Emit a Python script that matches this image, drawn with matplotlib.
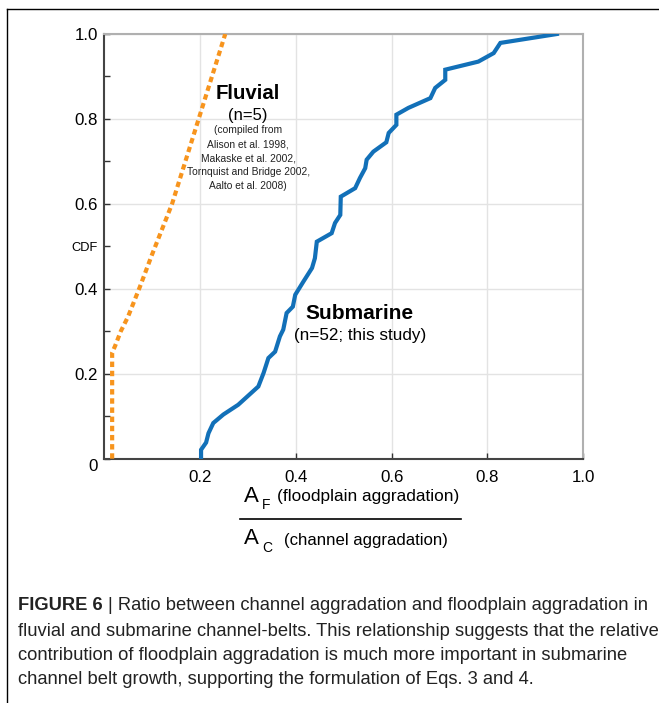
import matplotlib.pyplot as plt
from matplotlib.lines import Line2D
from matplotlib.ticker import FixedLocator, FixedFormatter

plt.rcParams['font.family'] = ['Liberation Sans', 'DejaVu Sans']

# submarine channel-belts, A_F / A_C vs cumulative fraction
sub_ratio = [0.2025, 0.2025, 0.213, 0.218, 0.228, 0.249, 0.280, 0.322, 0.333, 0.343,
             0.357, 0.367, 0.374, 0.381, 0.394, 0.399, 0.416, 0.434, 0.440, 0.444,
             0.475, 0.482, 0.493, 0.494, 0.524, 0.534, 0.545, 0.548, 0.562, 0.589,
             0.594, 0.610, 0.610, 0.635, 0.681, 0.691, 0.712, 0.712, 0.781, 0.813,
             0.827, 0.945]
sub_cdf = [0.0, 0.021, 0.038, 0.060, 0.084, 0.104, 0.127, 0.170, 0.202, 0.237,
           0.252, 0.288, 0.304, 0.343, 0.358, 0.386, 0.417, 0.449, 0.472, 0.511,
           0.531, 0.555, 0.574, 0.617, 0.637, 0.661, 0.684, 0.704, 0.723, 0.745,
           0.767, 0.786, 0.810, 0.826, 0.849, 0.873, 0.892, 0.916, 0.935, 0.955,
           0.979, 1.0]

# fluvial compilation
fluv_ratio = [0.017, 0.017, 0.023, 0.035, 0.050, 0.075, 0.100, 0.142, 0.253]
fluv_cdf = [0.0, 0.25, 0.265, 0.300, 0.334, 0.405, 0.480, 0.600, 1.0]

x_ticks = [0.2, 0.4, 0.6, 0.8, 1.0]
x_labels = ['0.2', '0.4', '0.6', '0.8', '1.0']
y_ticks = [0.0, 0.2, 0.4, 0.6, 0.8, 1.0]
y_labels = ['0', '0.2', '0.4', '0.6', '0.8', '1.0']
y_minor = [0.1, 0.3, 0.5, 0.7, 0.9]
y_minor_labels = ['', '', 'CDF', '', '']

refs = ['(compiled from', 'Alison et al. 1998,', 'Makaske et al. 2002,',
        'Tornquist and Bridge 2002,', 'Aalto et al. 2008)']

W, H = 659, 703
fig = plt.figure(figsize=(W / 100, H / 100), dpi=100)
ax = fig.add_axes([104 / W, 1 - 458.7 / H, 479.3 / W, 424.7 / H])

ax.plot(fluv_ratio, fluv_cdf, color='#F7941D', lw=3.0,
        linestyle=(0, (1.3, 0.9)), solid_capstyle='butt', zorder=3)
ax.plot(sub_ratio, sub_cdf, color='#1270B8', lw=3.0, zorder=3,
        solid_joinstyle='miter')

ax.set_xlim(0, 1)
ax.set_ylim(0, 1)
ax.xaxis.set_major_locator(FixedLocator(x_ticks))
ax.xaxis.set_major_formatter(FixedFormatter(x_labels))
ax.yaxis.set_major_locator(FixedLocator(y_ticks))
ax.yaxis.set_major_formatter(FixedFormatter(y_labels))
ax.yaxis.set_minor_locator(FixedLocator(y_minor))
ax.yaxis.set_minor_formatter(FixedFormatter(y_minor_labels))

ax.grid(True, which='major', color='#e3e3e3', lw=1.0, zorder=0)
ax.set_axisbelow(True)
ax.tick_params(which='both', direction='in', length=4, width=1, color='#333333',
               labelsize=12.2)
ax.tick_params(axis='x', pad=8)
ax.tick_params(axis='y', pad=4.5)
ax.tick_params(axis='y', which='minor', labelsize=9.3, pad=4.5)
ax.get_yticklabels()[0].set_va('top')

for side in ['left', 'bottom']:
    ax.spines[side].set_color('#444444')
    ax.spines[side].set_linewidth(1.5)
for side in ['top', 'right']:
    ax.spines[side].set_color('#b0b0b0')
    ax.spines[side].set_linewidth(1.5)

# annotations
ax.text(0.3006, 0.859, 'Fluvial', fontsize=14.7, fontweight='bold',
        ha='center', va='center')
ax.text(0.3006, 0.807, '(n=5)', fontsize=12, ha='center', va='center')
for yy, line in zip([0.774, 0.740, 0.707, 0.675, 0.642], refs):
    ax.text(0.3006, yy, line, fontsize=7.4, ha='center', va='center',
            color='#222222')
ax.text(0.534, 0.341, 'Submarine', fontsize=15, fontweight='bold',
        ha='center', va='center')
ax.text(0.534, 0.289, '(n=52; this study)', fontsize=12.3, ha='center', va='center')


def fx(px):
    return px / W


def fy(py):
    return 1 - py / H


# x-axis label drawn as a fraction
fig.text(fx(244), fy(497), 'A', fontsize=16, va='center', ha='left')
fig.text(fx(262), fy(505), 'F', fontsize=10, va='center', ha='left')
fig.text(fx(277), fy(497), '(floodplain aggradation)', fontsize=12.4,
         va='center', ha='left')
fig.add_artist(Line2D([fx(240), fx(461)], [fy(519), fy(519)], color='black', lw=1.2))
fig.text(fx(244), fy(539), 'A', fontsize=16, va='center', ha='left')
fig.text(fx(262), fy(548), 'C', fontsize=10, va='center', ha='left')
fig.text(fx(284), fy(541), '(channel aggradation)', fontsize=12.1,
         va='center', ha='left')

# figure frame (top and left edges)
fig.add_artist(Line2D([fx(7), 1.0], [fy(9), fy(9)], color='black', lw=1.0))
fig.add_artist(Line2D([fx(7), fx(7)], [fy(9), 0.0], color='black', lw=1.0))

# caption
cap_size = 13.2
cap_color = '#222222'
renderer = fig.canvas.get_renderer()
t = fig.text(fx(18), fy(606), 'FIGURE 6 ', fontsize=cap_size, fontweight='bold',
             va='center', ha='left', color=cap_color)
bb = t.get_window_extent(renderer)
fig.text(bb.x1 / W, fy(606), '| Ratio between channel aggradation and floodplain aggradation in',
         fontsize=cap_size, va='center', ha='left', color=cap_color)
cap_lines = ['fluvial and submarine channel-belts. This relationship suggests that the relative',
             'contribution of floodplain aggradation is much more important in submarine',
             'channel belt growth, supporting the formulation of Eqs. 3 and 4.']
for py, line in zip([631, 655, 679], cap_lines):
    fig.text(fx(18), fy(py), line, fontsize=cap_size, va='center', ha='left',
             color=cap_color)

fig.savefig('out.png', dpi=100)
